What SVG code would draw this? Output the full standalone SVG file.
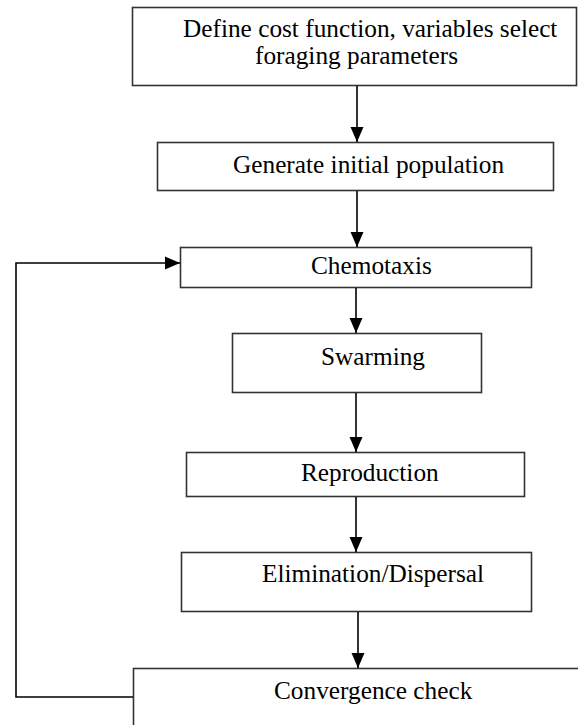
<svg xmlns="http://www.w3.org/2000/svg" width="578" height="725" viewBox="0 0 578 725">
<style>
.box{fill:#fff;stroke:#333;stroke-width:1.6}
.lbl{font-family:"Liberation Serif","Times New Roman",serif;font-size:25.3px;fill:#000}
.conn{fill:none;stroke:#000;stroke-width:1.6}
</style>
<defs>
<marker id="ah" markerUnits="userSpaceOnUse" markerWidth="15" markerHeight="14" viewBox="0 0 15 13" refX="15" refY="6.5" orient="auto">
<path d="M0,0 L15,6.5 L0,13 z" fill="#000"/>
</marker>
</defs>
<rect width="578" height="725" fill="#fff"/>
<g id="n1"><rect class="box" x="132.5" y="7.5" width="444" height="78"/>
<text class="lbl" x="183" y="37">Define cost function, variables select</text>
<text class="lbl" x="255" y="64">foraging parameters</text></g>
<g id="n2"><rect class="box" x="157.5" y="142.5" width="396" height="48"/>
<text class="lbl" x="233" y="173">Generate initial population</text></g>
<g id="n3"><rect class="box" x="180.5" y="247.5" width="351" height="40"/>
<text class="lbl" x="311" y="274">Chemotaxis</text></g>
<g id="n4"><rect class="box" x="232.5" y="333.5" width="249" height="59"/>
<text class="lbl" x="321" y="365">Swarming</text></g>
<g id="n5"><rect class="box" x="186.5" y="452.5" width="338" height="44"/>
<text class="lbl" x="301" y="481">Reproduction</text></g>
<g id="n6"><rect class="box" x="181.5" y="552.5" width="350" height="59"/>
<text class="lbl" x="262" y="582">Elimination/Dispersal</text></g>
<g id="n7"><rect class="box" x="133.5" y="668.5" width="460" height="70"/>
<text class="lbl" x="274" y="699">Convergence check</text></g>
<g id="connectors">
<line class="conn" x1="357" y1="86" x2="357" y2="142" marker-end="url(#ah)"/>
<line class="conn" x1="357" y1="191" x2="357" y2="247" marker-end="url(#ah)"/>
<line class="conn" x1="356" y1="288" x2="356" y2="333" marker-end="url(#ah)"/>
<line class="conn" x1="356" y1="393" x2="356" y2="452" marker-end="url(#ah)"/>
<line class="conn" x1="356" y1="497" x2="356" y2="552" marker-end="url(#ah)"/>
<line class="conn" x1="358" y1="612" x2="358" y2="668" marker-end="url(#ah)"/>
<polyline class="conn" points="133,697 16,697 16,263 180,263" marker-end="url(#ah)"/>
</g>
</svg>
